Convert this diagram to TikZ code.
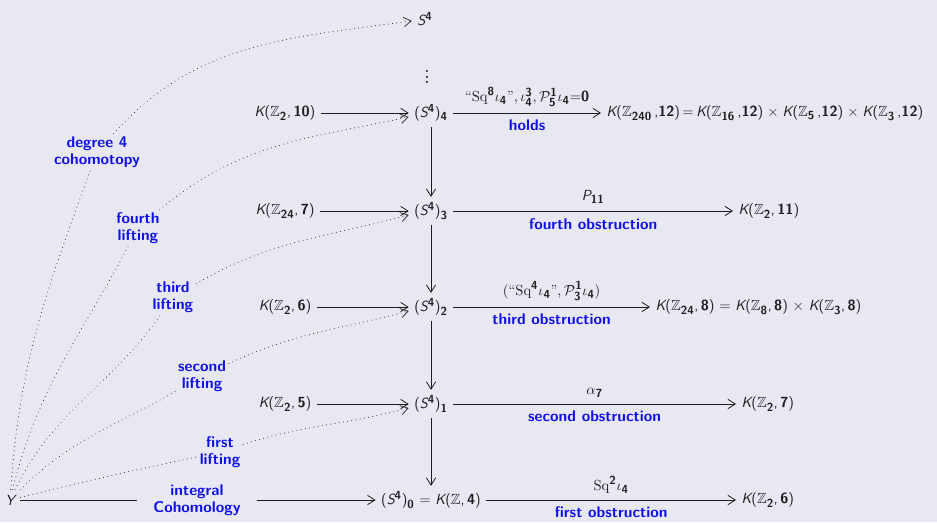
\documentclass[tikz,border=0pt]{standalone}
\usepackage{amsmath,amssymb}
\usetikzlibrary{arrows.meta}
\definecolor{bg}{RGB}{232,232,242}
\definecolor{lblue}{RGB}{15,15,240}
\definecolor{ink}{RGB}{30,30,30}
\DeclareMathSizes{11}{11}{8.8}{6.5}
\newcommand{\bd}[1]{\text{\bfseries #1}}
\newcommand{\KZ}[2]{{\slshape K}($\mathbb{Z}_{\bd{#1}}$,\,\textbf{#2})}
\newcommand{\KZt}[2]{{\slshape K}($\mathbb{Z}_{\bd{#1}}\,$,\textbf{#2})}
\newcommand{\SF}[1]{({\slshape S}$^{\bd{4}}$)$_{\bd{#1}}$}
\begin{document}
\begin{tikzpicture}[x=0.75pt,y=0.75pt,
  every node/.style={font=\sffamily\fontsize{11}{12.5}\selectfont, text=ink},
  obj/.style={inner sep=4pt},
  lbl/.style={font=\sffamily\bfseries\fontsize{11.6}{12.5}\selectfont, text=lblue, align=center, inner sep=2pt},
  arr/.style={-{Straight Barb[length=5.5pt,width=7pt]}, line width=0.6pt, draw=ink},
  dotl/.style={line width=0.8pt, dash pattern=on 0.01pt off 3.2pt, line cap=round, draw=ink!90},
  dotarr/.style={dotl, -{Straight Barb[length=5.5pt,width=7pt,line width=0.6pt]}}
]
\fill[bg] (0,0) rectangle (937,522);
\useasboundingbox (0,0) rectangle (937,522);

% main column
\node[obj] (S4top) at (425,503) {{\slshape S}$^{\bd{4}}$};
\node[font=\fontsize{19}{20}\selectfont] (dots) at (427,449) {$\vdots$};
\node[obj] (S44) at (431,409) {\SF{4}};
\node[obj] (S43) at (431,311) {\SF{3}};
\node[obj] (S42) at (431,215) {\SF{2}};
\node[obj] (S41) at (431,118) {\SF{1}};
\node[obj] (S40) at (431,22) {\SF{0} $=$ {\slshape K}($\mathbb{Z}$,\,\textbf{4})};

% left fibres
\node[obj] (K10) at (285,409) {\KZ{2}{10}};
\node[obj] (K7) at (285,311) {\KZ{24}{7}};
\node[obj] (K6a) at (285,215) {\KZ{2}{6}};
\node[obj] (K5) at (285,118) {\KZ{2}{5}};

% right targets
\node[obj,anchor=west] (K240) at (601,409) {\KZt{240}{12}$\,{=}\,$\KZt{16}{12}$\;{\times}\;$\KZt{5}{12}$\;{\times}\;$\KZt{3}{12}};
\node[obj,anchor=west] (K11) at (733,311) {\KZ{2}{11}};
\node[obj,anchor=west] (K8) at (650,215) {\KZ{24}{8} $=$ \KZ{8}{8} $\times$ \KZ{3}{8}};
\node[obj,anchor=west] (K7b) at (736,118) {\KZ{2}{7}};
\node[obj,anchor=west] (K6b) at (736,22) {\KZ{2}{6}};

% Y and labels
\node[obj] (Y) at (10,22) {{\slshape Y}};
\node[lbl] (L1) at (97,370) {degree 4\\cohomotopy};
\node[lbl] (L2) at (138,294) {fourth\\lifting};
\node[lbl] (L3) at (173,225) {third\\lifting};
\node[lbl] (L4) at (202,146) {second\\lifting};
\node[lbl] (L5) at (220,70) {first\\lifting};
\node[lbl,inner xsep=12pt] (IC) at (197,22) {integral\\Cohomology};

% horizontal fibre arrows
\draw[arr] (K10) -- (S44);
\draw[arr] (K7) -- (S43);
\draw[arr] (K6a) -- (S42);
\draw[arr] (K5) -- (S41);

% vertical arrows
\draw[arr] (S44.south) -- (S43.north);
\draw[arr] (S43.south) -- (S42.north);
\draw[arr] (S42.south) -- (S41.north);
\draw[arr] (S41.south) -- (S40.north);

% obstructions
\draw[arr] (S44) -- node[above=1pt]{$\textrm{``}\mathrm{Sq}^{\bd{8}}\iota_{\bd{4}}\textrm{''},\iota_{\bd{4}}^{\bd{3}},\mathcal{P}_{\bd{5}}^{\bd{1}}\iota_{\bd{4}}{=}\bd{0}$} node[below=3pt,lbl]{holds} (K240);
\draw[arr] (S43) -- node[above=2pt]{{\slshape P}$_{\bd{11}}$} node[below=3.5pt,lbl]{fourth obstruction} (K11);
\draw[arr] (S42) -- node[above=1pt]{$(\textrm{``}\mathrm{Sq}^{\bd{4}}\iota_{\bd{4}}\textrm{''},\mathcal{P}^{\bd{1}}_{\bd{3}}\iota_{\bd{4}})$} node[below=3pt,lbl]{third obstruction} (K8);
\draw[arr] (S41) -- node[above=1pt]{$\alpha_{\bd{7}}$} node[below=3pt,lbl]{second obstruction} (K7b);
\draw[arr] (S40) -- node[above=1pt]{$\mathrm{Sq}^{\bd{2}}\iota_{\bd{4}}$} node[below=3pt,lbl]{first obstruction} (K6b);

% integral cohomology
\draw[line width=0.6pt, draw=ink] (Y) -- (IC);
\draw[arr] (IC) -- (S40);

% dotted liftings
\draw[dotl] (Y) to[out=86,in=-110] (L1);
\draw[dotarr] (L1) to[out=48,in=188] (S4top);
\draw[dotl] (Y) to[out=76,in=-118] (L2);
\draw[dotarr] (L2) to[out=40,in=192] ([yshift=-3pt]S44.west);
\draw[dotl] (Y) to[out=64,in=-125] (L3);
\draw[dotarr] (L3) to[out=30,in=195] ([yshift=-3pt]S43.west);
\draw[dotl] (Y) to[out=45,in=-150] (L4);
\draw[dotarr] (L4) to[out=25,in=195] ([yshift=-3pt]S42.west);
\draw[dotl] (Y) to[out=14,in=-168] (L5);
\draw[dotarr] (L5) to[out=18,in=195] ([yshift=-3pt]S41.west);
\end{tikzpicture}
\end{document}
